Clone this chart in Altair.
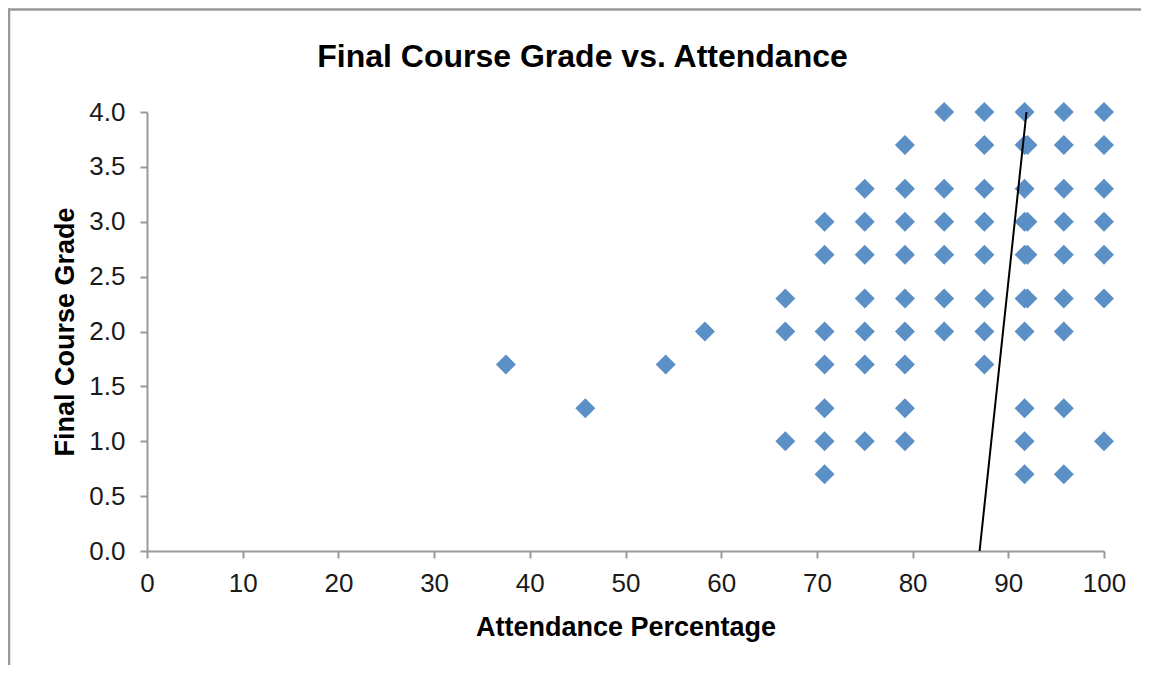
import altair as alt
import pandas as pd

# Attendance (%) and final grade pairs
grade_rows = [4.0, 3.7, 3.3, 3.0, 2.7, 2.3, 2.0, 1.7, 1.3, 1.0, 0.7]
attendance_by_row = [
    [83.3, 87.5, 91.7, 95.8, 100.0],                          # 4.0
    [79.2, 87.5, 91.7, 92.0, 95.8, 100.0],                    # 3.7
    [75.0, 79.2, 83.3, 87.5, 91.7, 95.8, 100.0],              # 3.3
    [70.8, 75.0, 79.2, 83.3, 87.5, 91.7, 92.0, 95.8, 100.0],  # 3.0
    [70.8, 75.0, 79.2, 83.3, 87.5, 91.7, 92.0, 95.8, 100.0],  # 2.7
    [66.7, 75.0, 79.2, 83.3, 87.5, 91.7, 92.0, 95.8, 100.0],  # 2.3
    [58.3, 66.7, 70.8, 75.0, 79.2, 83.3, 87.5, 91.7, 95.8],   # 2.0
    [37.5, 54.2, 70.8, 75.0, 79.2, 87.5],                     # 1.7
    [45.8, 70.8, 79.2, 91.7, 95.8],                           # 1.3
    [66.7, 70.8, 75.0, 79.2, 91.7, 100.0],                    # 1.0
    [70.8, 91.7, 95.8],                                       # 0.7
]

trend_x = [87.0, 91.9]
trend_y = [0.0, 4.0]

x_ticks = [0, 10, 20, 30, 40, 50, 60, 70, 80, 90, 100]
y_ticks = [0.0, 0.5, 1.0, 1.5, 2.0, 2.5, 3.0, 3.5, 4.0]

xs, ys = [], []
for g, row in zip(grade_rows, attendance_by_row):
    for a in row:
        xs.append(a)
        ys.append(g)
points = pd.DataFrame({"att": xs, "grade": ys})
trend = pd.DataFrame({"att": trend_x, "grade": trend_y})

FONT = "Liberation Sans"

x_enc = alt.X(
    "att:Q",
    scale=alt.Scale(domain=[0, 100], nice=False, zero=False),
    axis=alt.Axis(
        values=x_ticks, format="d", title="Attendance Percentage",
        titleY=76, titleBaseline="middle", labelPadding=12, labelFlush=False,
    ),
)
y_enc = alt.Y(
    "grade:Q",
    scale=alt.Scale(domain=[0, 4], nice=False),
    axis=alt.Axis(
        values=y_ticks, format=".1f", title="Final Course Grade",
        titleX=-82, titleBaseline="middle", labelPadding=15, labelFlush=False,
    ),
)

scatter = alt.Chart(points).mark_point(
    shape="diamond", filled=True, size=400, color="#5B90C7", opacity=1
).encode(x=x_enc, y=y_enc)

line = alt.Chart(trend).mark_line(color="#000000", strokeWidth=2).encode(
    x="att:Q", y="grade:Q"
)

one = pd.DataFrame({"a": [0]})
frame_top = alt.Chart(one).mark_rule(color="#999999", strokeWidth=2.5).encode(
    x=alt.value(-139), x2=alt.value(1000), y=alt.value(-102.5)
)
frame_left = alt.Chart(one).mark_rule(color="#999999", strokeWidth=2.5).encode(
    x=alt.value(-138), y=alt.value(-103.5), y2=alt.value(560)
)

chart = (
    alt.layer(frame_top, frame_left, scatter, line)
    .properties(
        width=957,
        height=439,
        autosize=alt.AutoSizeParams(type="none"),
        padding={"left": 139, "top": 104, "right": 37, "bottom": 114},
        title=alt.TitleParams(
            "Final Course Grade vs. Attendance",
            font=FONT, fontSize=32, fontWeight="bold", color="#000000",
            anchor="middle", frame="group", dx=-43, offset=-67,
        ),
    )
    .configure_view(stroke=None)
    .configure_axis(
        grid=False,
        domainColor="#999999", domainWidth=2,
        tickColor="#999999", tickWidth=2, tickSize=7,
        labelFont=FONT, labelFontSize=26, labelColor="#1a1a1a",
        titleFont=FONT, titleFontSize=27, titleFontWeight="bold", titleColor="#000000",
    )
)

chart.save("out.html", embed_options={"renderer": "svg", "actions": False})
